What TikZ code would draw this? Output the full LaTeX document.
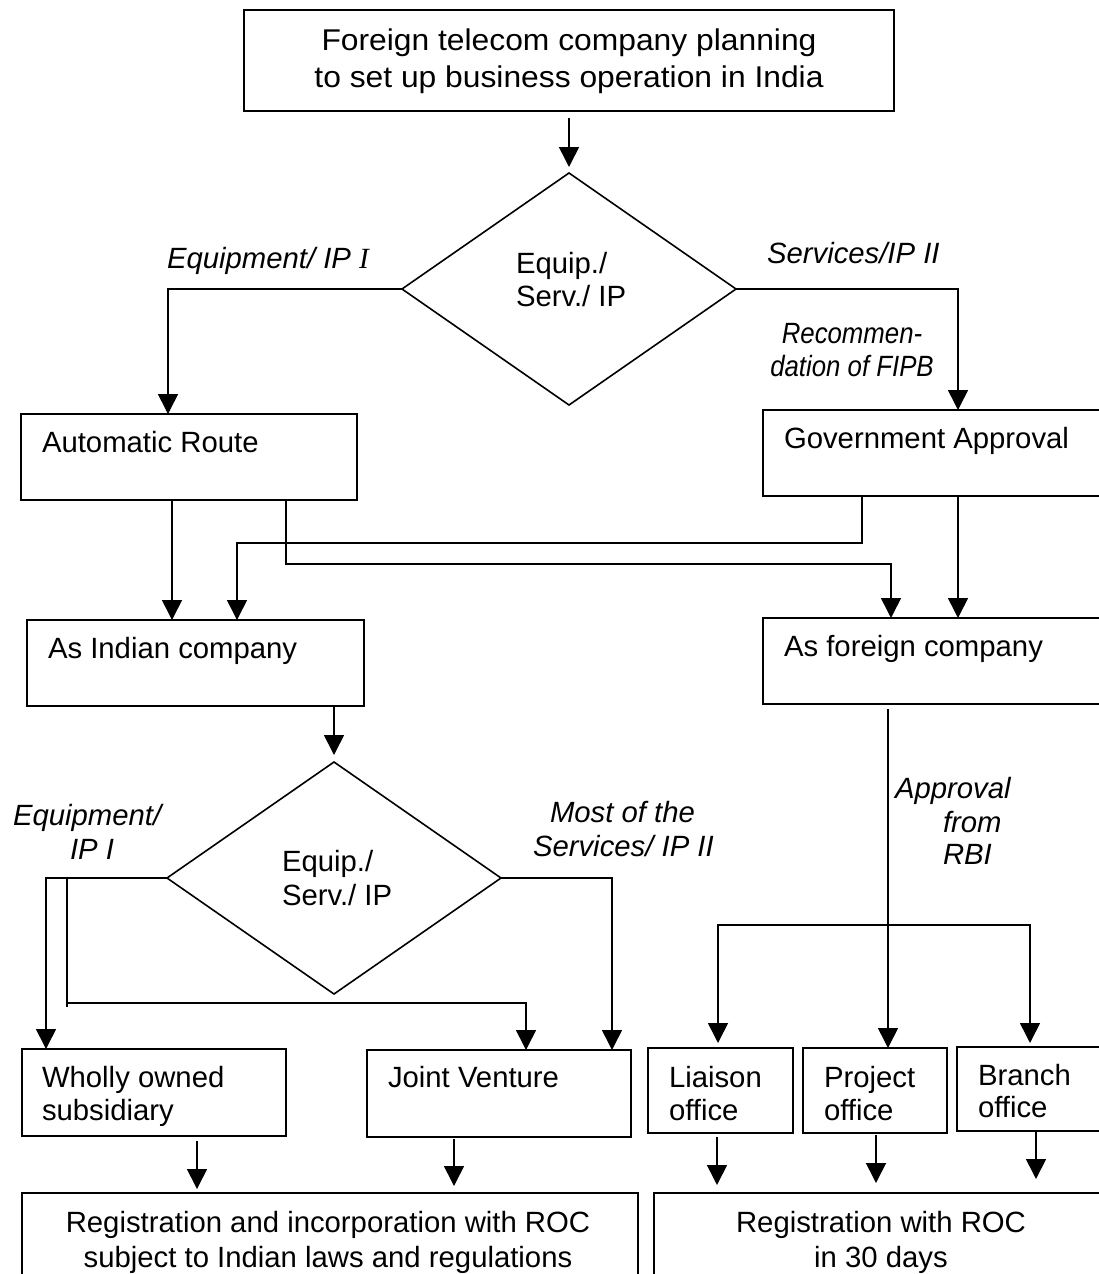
\documentclass[tikz,border=0pt]{standalone}
\usepackage{fontspec}
\setmainfont{Liberation Sans}
\newfontfamily\headfont[FakeStretch=1.06]{Liberation Sans}
\newfontfamily\narrowface[FakeStretch=0.88]{Liberation Sans}
\newfontfamily\serifface{Liberation Serif}
\usetikzlibrary{arrows.meta,shapes.geometric}
\begin{document}
\begin{tikzpicture}[x=1pt,y=-1pt,
  line width=1.6pt,
  every node/.style={inner sep=0pt, outer sep=0pt},
  box/.style={draw, rectangle, anchor=north west},
  choice/.style={draw, diamond, minimum width=334pt, minimum height=232pt},
  body/.style={font=\fontsize{29.3}{34}\selectfont, anchor=base west},
  note/.style={font=\fontsize{29.3}{34}\selectfont\itshape, anchor=base west},
  narrownote/.style={font=\narrowface\fontsize{29.3}{34}\selectfont\itshape, anchor=base},
  head/.style={font=\headfont\fontsize{30}{34}\selectfont, anchor=base},
  flow/.style={-{Triangle[width=20pt,length=20pt]}},
  twoway/.style={{Triangle[width=20pt,length=20pt]}-{Triangle[width=20pt,length=20pt]}},
]
\useasboundingbox (0,0) rectangle (1099,1274);

% ---------- boxes ----------
\node[box, minimum width=650pt, minimum height=101pt] (top) at (244,10) {};
\node[box, minimum width=336pt, minimum height=86pt] (auto) at (21,414) {};
\node[box, minimum width=339pt, minimum height=86pt] (gov) at (763,410) {};
\node[box, minimum width=337pt, minimum height=86pt] (indian) at (27,620) {};
\node[box, minimum width=339pt, minimum height=86pt] (foreign) at (763,618) {};
\node[box, minimum width=264pt, minimum height=87pt] (wholly) at (22,1049) {};
\node[box, minimum width=264pt, minimum height=87pt] (jv) at (367,1050) {};
\node[box, minimum width=145pt, minimum height=85pt] (liaison) at (648,1048) {};
\node[box, minimum width=144pt, minimum height=85pt] (project) at (803,1048) {};
\node[box, minimum width=145pt, minimum height=84pt] (branch) at (957,1047) {};
\node[box, minimum width=616pt, minimum height=110pt] (regL) at (22,1193) {};
\node[box, minimum width=448pt, minimum height=110pt] (regR) at (654,1193) {};

% ---------- decisions ----------
\node[choice] (d1) at (569,289) {};
\node[choice] (d2) at (334,878) {};

% ---------- texts ----------
\node[head] (topA) at (569,50) {Foreign telecom company planning};
\node[head] (topB) at (569,87) {to set up business operation in India};

\node[body] (d1a) at (516,273) {Equip./};
\node[body] (d1b) at (516,306) {Serv./ IP};
\node[body] (d2a) at (282,871) {Equip./};
\node[body] (d2b) at (282,905) {Serv./ IP};

\node[body] (autoT) at (42,452) {Automatic Route};
\node[body] (govT) at (784,448) {Government Approval};
\node[body] (indT) at (48,658) {As Indian company};
\node[body] (forT) at (784,656) {As foreign company};
\node[body] (whA) at (42,1087) {Wholly owned};
\node[body] (whB) at (42,1120) {subsidiary};
\node[body] (jvT) at (388,1087) {Joint Venture};
\node[body] (liA) at (669,1087) {Liaison};
\node[body] (liB) at (669,1120) {office};
\node[body] (prA) at (824,1087) {Project};
\node[body] (prB) at (824,1120) {office};
\node[body] (brA) at (978,1085) {Branch};
\node[body] (brB) at (978,1117) {office};
\node[body, anchor=base] (rlA) at (328,1232) {Registration and incorporation with ROC};
\node[body, anchor=base] (rlB) at (328,1267) {subject to Indian laws and regulations};
\node[body, anchor=base] (rrA) at (881,1232) {Registration with ROC};
\node[body, anchor=base] (rrB) at (881,1267) {in 30 days};

% branch labels
\node[note] (eq1) at (167,268) {Equipment/ IP {\serifface\itshape I}};
\node[note] (sv1) at (767,263) {Services/IP II};
\node[narrownote] (recA) at (852,343) {Recommen-};
\node[narrownote] (recB) at (852,376) {dation of FIPB};
\node[note] (eq2a) at (13,825) {Equipment/};
\node[note] (eq2b) at (70,859) {IP I};
\node[note] (mostA) at (550,822) {Most of the};
\node[note] (mostB) at (533,856) {Services/ IP II};
\node[note] (rbiA) at (895,798) {Approval};
\node[note] (rbiB) at (943,832) {from};
\node[note] (rbiC) at (943,864) {RBI};

% ---------- connector columns ----------
\coordinate (xa) at (168,0);
\coordinate (xb) at (958,0);
\coordinate (xc) at (172,0);
\coordinate (xd) at (237,0);
\coordinate (xe) at (862,0);
\coordinate (xf) at (286,0);
\coordinate (xg) at (891,0);
\coordinate (xh) at (46,0);
\coordinate (xi) at (67,0);
\coordinate (xj) at (526,0);
\coordinate (xk) at (612,0);
\coordinate (xl) at (888,0);
\coordinate (xm) at (718,0);
\coordinate (xn) at (1030,0);
\coordinate (xo) at (197,0);
\coordinate (xp) at (454,0);
\coordinate (xq) at (717,0);
\coordinate (xr) at (876,0);
\coordinate (xs) at (1036,0);

% ---------- connectors ----------
\draw[flow, shorten <=7pt, shorten >=6pt] (top.south) -- (d1.north);
\draw[flow] (d1.west) -| (xa |- auto.north);
\draw[flow] (d1.east) -| (xb |- gov.north);
\draw[flow] (xc |- auto.south) -- (xc |- indian.north);
\draw[flow] (xe |- gov.south) -- (862,543) -- (237,543) -- (xd |- indian.north);
\draw[flow] (xf |- auto.south) -- (286,564) -- (891,564) -- (xg |- foreign.north);
\draw[flow] (xb |- gov.south) -- (xb |- foreign.north);

\draw[flow, shorten >=7pt] (d2.north |- indian.south) -- (d2.north);
\draw[flow] (d2.west) -| (xh |- wholly.north);
\draw (xi |- d2.west) -- (67,1007);
\draw[flow] (67,1003) -| (xj |- jv.north);
\draw[flow] (d2.east) -| (xk |- jv.north);

\draw[flow, shorten <=5pt] (xl |- foreign.south) -- (xl |- project.north);
\draw[twoway, shorten <=5pt, shorten >=4pt] (xm |- liaison.north) -- (718,925) -- (1030,925) -- (xn |- branch.north);

\draw[flow, shorten <=5pt, shorten >=4pt] (xo |- wholly.south) -- (xo |- regL.north);
\draw[flow, shorten <=2pt, shorten >=7pt] (xp |- jv.south) -- (xp |- regL.north);
\draw[flow, shorten <=4pt, shorten >=8pt] (xq |- liaison.south) -- (xq |- regR.north);
\draw[flow, shorten <=2pt, shorten >=10pt] (xr |- project.south) -- (xr |- regR.north);
\draw[flow, shorten <=1pt, shorten >=14pt] (xs |- branch.south) -- (xs |- regR.north);
\end{tikzpicture}
\end{document}
